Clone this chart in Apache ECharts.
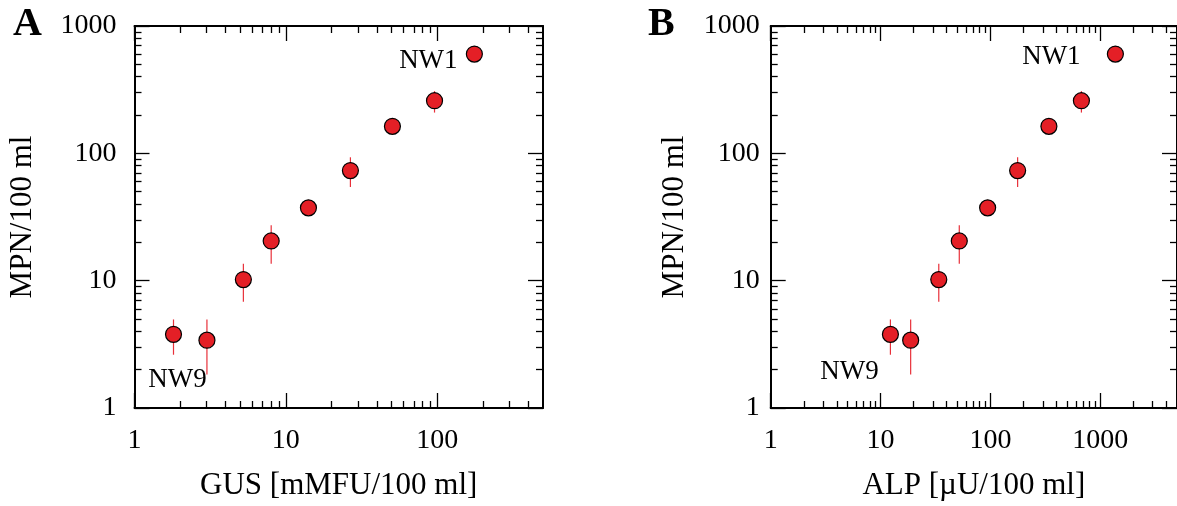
<!DOCTYPE html>
<html><head><meta charset="utf-8">
<script src="https://cdn.jsdelivr.net/npm/echarts@6/dist/echarts.min.js"></script>
<style>html,body{margin:0;padding:0;background:#fff}#c{width:1177px;height:506px}</style>
</head><body><div id="c"></div>
<script>
// ---- data ----
const mpn     = [3.79, 3.41, 10.2, 20.5, 37.3, 73.2, 163, 259, 602];
const mpnLow  = [2.62, 1.83, 6.82, 13.6, 34.0, 54.4, 152, 209, 570];
const mpnHigh = [4.96, 4.96, 13.6, 27.3, 40.5, 93.1, 172, 308, 630];
const gus = [1.81, 3.01, 5.24, 8.0, 14.1, 26.7, 50.6, 96, 176];
const alp = [12.3, 18.8, 33.9, 52.1, 94.4, 177, 341, 674, 1374];
const sampleNames = ['NW9', '', '', '', '', '', '', '', 'NW1'];
const gusMajorTicks = [1, 10, 100];
const alpMajorTicks = [1, 10, 100, 1000];
const mpnMajorTicks = [1, 10, 100, 1000];
const panelLetters = ['A', 'B'];
const xTitles = ['GUS [mMFU/100 ml]', 'ALP [\u00b5U/100 ml]'];
const yTitle = 'MPN/100 ml';

// ---- helpers ----
const FONT = 'Liberation Serif';
function minorTicks(min, max) {
  const out = [];
  for (let d = 1; d <= max; d *= 10)
    for (let m = 2; m <= 9; m++) { const v = m * d; if (v > min && v < max) out.push(v); }
  return out;
}
const fmt = v => String(Math.round(v));
const red = '#e41f26';

function xAxes(gi, min, max, major, name, labelMargin, nameGap) {
  const minor = minorTicks(min, max);
  const base = {gridIndex: gi, type: 'log', logBase: 10, min, max, splitLine: {show: false}};
  const line = {show: true, lineStyle: {color: '#000', width: 2}};
  return [
    Object.assign({}, base, {position: 'bottom', axisLine: line,
      axisTick: {show: true, inside: true, length: 15, customValues: major, lineStyle: {color: '#000', width: 1.3}},
      axisLabel: {show: true, customValues: major, formatter: fmt, color: '#000', fontSize: 28, fontFamily: FONT, margin: labelMargin},
      name, nameLocation: 'middle', nameGap, nameTextStyle: {color: '#000', fontSize: 31, fontFamily: FONT}}),
    Object.assign({}, base, {position: 'bottom', axisLine: {show: false},
      axisTick: {show: true, inside: true, length: 7, customValues: minor, lineStyle: {color: '#000', width: 1.3}},
      axisLabel: {show: false}}),
    Object.assign({}, base, {position: 'top', axisLine: line,
      axisTick: {show: true, inside: true, length: 15, customValues: major, lineStyle: {color: '#000', width: 1.3}},
      axisLabel: {show: false}}),
    Object.assign({}, base, {position: 'top', axisLine: {show: false},
      axisTick: {show: true, inside: true, length: 7, customValues: minor, lineStyle: {color: '#000', width: 1.3}},
      axisLabel: {show: false}})
  ];
}
function yAxes(gi, min, max, major, name, labelMargin, nameGap) {
  const minor = minorTicks(min, max);
  const base = {gridIndex: gi, type: 'log', logBase: 10, min, max, splitLine: {show: false}};
  const line = {show: true, lineStyle: {color: '#000', width: 2}};
  return [
    Object.assign({}, base, {position: 'left', axisLine: line,
      axisTick: {show: true, inside: true, length: 15, customValues: major, lineStyle: {color: '#000', width: 1.3}},
      axisLabel: {show: true, customValues: major, formatter: fmt, color: '#000', fontSize: 28, fontFamily: FONT, margin: labelMargin},
      name, nameLocation: 'middle', nameGap, nameRotate: 90, nameTextStyle: {color: '#000', fontSize: 31, fontFamily: FONT}}),
    Object.assign({}, base, {position: 'left', axisLine: {show: false},
      axisTick: {show: true, inside: true, length: 7, customValues: minor, lineStyle: {color: '#000', width: 1.3}},
      axisLabel: {show: false}}),
    Object.assign({}, base, {position: 'right', axisLine: line,
      axisTick: {show: true, inside: true, length: 15, customValues: major, lineStyle: {color: '#000', width: 1.3}},
      axisLabel: {show: false}}),
    Object.assign({}, base, {position: 'right', axisLine: {show: false},
      axisTick: {show: true, inside: true, length: 7, customValues: minor, lineStyle: {color: '#000', width: 1.3}},
      axisLabel: {show: false}})
  ];
}

// label offsets for the annotated samples, per panel
const labelOffsets = [
  {NW9: [4, 46], NW1: [-46, 7]},
  {NW9: [-41, 38], NW1: [-64, 3]}
];

function panelSeries(pi, xs) {
  const axisIdx = pi * 4;
  const err = {
    type: 'custom', xAxisIndex: axisIdx, yAxisIndex: axisIdx, z: 2,
    data: xs.map((x, i) => [x, mpnLow[i], mpnHigh[i]]),
    encode: {x: 0, y: [1, 2]},
    renderItem(params, api) {
      const x = api.value(0);
      const p1 = api.coord([x, api.value(1)]);
      const p2 = api.coord([x, api.value(2)]);
      return {type: 'line', shape: {x1: p1[0], y1: p1[1], x2: p2[0], y2: p2[1]},
        style: {stroke: '#e8303a', lineWidth: 1.2}};
    }
  };
  const pts = {
    type: 'scatter', xAxisIndex: axisIdx, yAxisIndex: axisIdx, z: 3,
    symbol: 'circle', symbolSize: 16,
    itemStyle: {color: red, borderColor: '#000', borderWidth: 1.2, opacity: 1},
    emphasis: {disabled: true},
    data: xs.map((x, i) => {
      const item = {value: [x, mpn[i]]};
      const nm = sampleNames[i];
      if (nm) item.label = {show: true, formatter: nm, position: 'inside', offset: labelOffsets[pi][nm],
        color: '#000', fontSize: 27, fontFamily: FONT};
      return item;
    })
  };
  return [err, pts];
}

const option = {
  animation: false,
  backgroundColor: '#fff',
  title: panelLetters.map((t, i) => ({text: t, left: i === 0 ? 13 : 648, top: 5, padding: 0,
    textStyle: {fontSize: 40, fontWeight: 'bold', fontFamily: FONT, color: '#000'}})),
  grid: [
    {left: 134.5, right: 634, top: 26, bottom: 95},
    {left: 770.7, right: -1.3, top: 26, bottom: 95}
  ],
  xAxis: [].concat(
    xAxes(0, 1, 500, gusMajorTicks, xTitles[0], 19, 62),
    xAxes(1, 1, 5000, alpMajorTicks, xTitles[1], 19, 62)
  ),
  yAxis: [].concat(
    yAxes(0, 1, 1000, mpnMajorTicks, yTitle, 18, 96),
    yAxes(1, 1, 1000, mpnMajorTicks, yTitle, 11, 80)
  ),
  series: [].concat(panelSeries(0, gus), panelSeries(1, alp))
};
echarts.init(document.getElementById('c')).setOption(option);
</script></body></html>
